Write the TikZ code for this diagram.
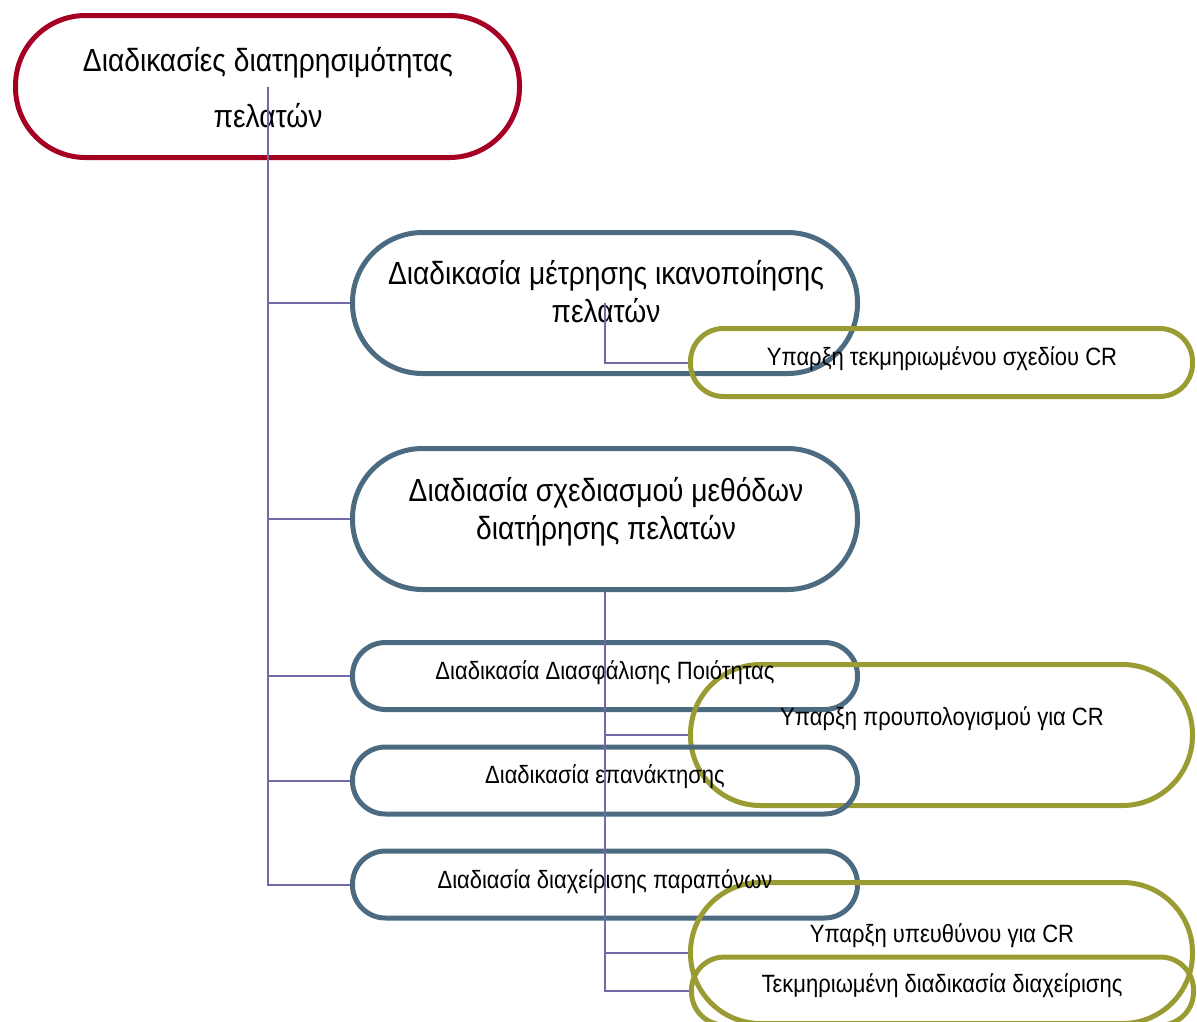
\documentclass[tikz,border=0pt]{standalone}
\usepackage{fontspec}
\setmainfont{Liberation Sans}[FakeStretch=0.88]
\definecolor{rootred}{RGB}{165,0,36}
\definecolor{slateblue}{RGB}{76,107,128}
\definecolor{olivegreen}{RGB}{155,155,52}
\definecolor{linkline}{RGB}{112,106,168}
\begin{document}
\begin{tikzpicture}[x=1pt,y=-1pt,
  shapebase/.style={draw, line width=5pt, rectangle, inner sep=0pt},
  rootbox/.style={shapebase, draw=rootred, minimum width=504pt, minimum height=142pt, rounded corners=70pt},
  tallbox/.style={shapebase, draw=slateblue, minimum width=505pt, minimum height=141pt, rounded corners=70pt},
  flatbox/.style={shapebase, draw=slateblue, minimum width=505pt, minimum height=67pt, rounded corners=33pt},
  talloli/.style={shapebase, draw=olivegreen, minimum width=502pt, minimum height=141pt, rounded corners=70pt},
  flatoli/.style={shapebase, draw=olivegreen, minimum width=502pt, minimum height=68pt, rounded corners=33pt},
  bigtext/.style={anchor=base, inner sep=0pt, font=\fontsize{32}{38}\selectfont},
  smalltext/.style={anchor=base, inner sep=0pt, font=\fontsize{25}{30}\selectfont},
  link/.style={draw=linkline, line width=2pt}
]
\useasboundingbox (0,0) rectangle (1197,1021);
\begin{scope}
\clip (0,0) rectangle (1197,1021);

% outlines
\node[rootbox] (root) at (267.5,86.5) {};
\node[tallbox] (meas) at (605,303) {};
\node[flatoli] (plan) at (941.5,362.5) {};
\node[tallbox] (design) at (605,519) {};
\node[flatbox] (quality) at (605,676) {};
\node[talloli] (budget) at (941.5,735) {};
\node[flatbox] (recover) at (605,780.5) {};
\node[flatbox] (complaint) at (605,884.5) {};
\node[talloli] (owner) at (941.5,953) {};
\node[flatoli] (handling) at (942.5,991) {};

% labels
\node[bigtext] (rootA) at (268,71) {Διαδικασίες διατηρησιμότητας};
\node[bigtext] (rootB) at (268,127) {πελατών};
\node[bigtext] (measA) at (606,284) {Διαδικασία μέτρησης ικανοποίησης};
\node[bigtext] (measB) at (606,322) {πελατών};
\node[bigtext] (designA) at (606,501) {Διαδιασία σχεδιασμού μεθόδων};
\node[bigtext] (designB) at (606,539) {διατήρησης πελατών};
\node[smalltext] (planT) at (942,365) {Υπαρξη τεκμηριωμένου σχεδίου CR};
\node[smalltext] (qualityT) at (605,679) {Διαδικασία Διασφάλισης Ποιότητας};
\node[smalltext] (budgetT) at (942,725) {Υπαρξη προυπολογισμού για CR};
\node[smalltext] (recoverT) at (605,783) {Διαδικασία επανάκτησης};
\node[smalltext] (complaintT) at (605,888) {Διαδιασία διαχείρισης παραπόνων};
\node[smalltext] (ownerT) at (942,942) {Υπαρξη υπευθύνου για CR};
\node[smalltext] (handlingT) at (942,992) {Τεκμηριωμένη διαδικασία διαχείρισης};

% connectors
\draw[link] (root.center) |- (meas.west);
\draw[link] (root.center) |- (design.west);
\draw[link] (root.center) |- (quality.west);
\draw[link] (root.center) |- (recover.west);
\draw[link] (root.center) |- (complaint.west);
\draw[link] (meas.center) |- (plan.west);
\draw[link] (design.south) |- (budget.west);
\draw[link] (design.south) |- (owner.west);
\draw[link] (design.south) |- (handling.west);
\end{scope}
\end{tikzpicture}
\end{document}
